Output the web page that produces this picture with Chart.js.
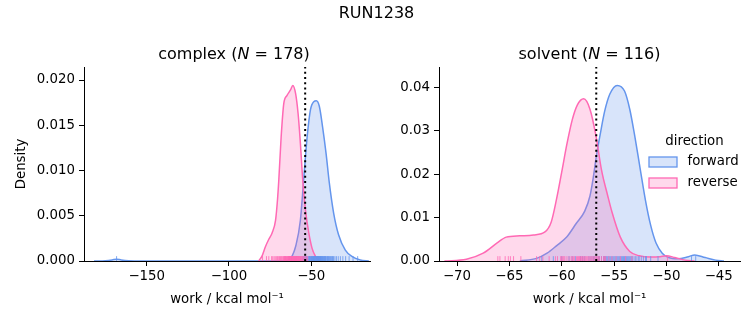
<!DOCTYPE html>
<html>
<head>
<meta charset="utf-8">
<title>RUN1238</title>
<script src="https://cdn.jsdelivr.net/npm/chart.js@4.4.0/dist/chart.umd.min.js"></script>
<style>
  html, body { margin: 0; padding: 0; background: #fff; }
  #fig { position: relative; width: 753px; height: 325px; font-family: 'DejaVu Sans', sans-serif; color: #000; overflow: hidden; }
  #fig canvas { position: absolute; top: 0; }
  .title { position: absolute; font-size: 16px; line-height: 16px; text-align: center; white-space: nowrap; }
</style>
</head>
<body>
<div id="fig">
  <canvas id="complexChart" width="376" height="325" style="left:0"></canvas>
  <canvas id="solventChart" width="377" height="325" style="left:376px"></canvas>
  <div class="title" style="left:0; width:753px; top:5px;">RUN1238</div>
  <div class="title" style="left:84px; width:300px; top:46px;">complex (<i>N</i> = 178)</div>
  <div class="title" style="left:439px; width:301px; top:46px;">solvent (<i>N</i> = 116)</div>
</div>
<script>
// work distributions, forward vs reverse, per leg
const FORWARD = '#6495ED';
const REVERSE = '#FF69B4';

// KDE curves: work (kcal/mol) and density
const complexForwardWork = [-182, -175, -171, -168.3, -165.5, -161, -154, -66, -63.6, -61.5, -59.5, -56.6, -54.6, -52.5, -50.5, -48.5, -46.9, -45.1, -43.1, -41.0, -39.0, -36.4, -33.4, -29.3, -25.3, -20.2, -15];
const complexForwardDensity = [0, 0.00004, 0.00012, 0.0002, 0.00012, 0.00004, 0, 0, 0.0001, 0.0006, 0.0016, 0.0045, 0.0090, 0.0137, 0.0167, 0.0176, 0.0177, 0.0171, 0.0148, 0.0119, 0.0086, 0.0053, 0.0029, 0.0012, 0.0005, 0.0001, 0];
const complexReverseWork = [-82.0, -79.8, -77.8, -75.8, -73.8, -71.7, -70.5, -69.7, -68.3, -66.7, -64.7, -62.6, -61.2, -59.5, -58.0, -56.6, -55.2, -53.5, -51.5, -49.5, -47.4, -45.4];
const complexReverseDensity = [0, 0.0006, 0.0016, 0.0024, 0.0031, 0.0045, 0.0068, 0.0090, 0.0137, 0.0174, 0.0183, 0.0189, 0.0194, 0.0185, 0.0163, 0.0130, 0.0090, 0.0056, 0.0031, 0.0014, 0.0005, 0];

const solventForwardWork = [-64.0, -62.4, -61.4, -60.5, -59.5, -58.6, -57.8, -57.3, -57.0, -56.7, -56.3, -55.9, -55.4, -54.7, -54.0, -53.5, -53.0, -52.5, -52.0, -51.5, -51.0, -50.4, -49.8, -48.9, -47.9, -47.3, -46.3, -45.3, -44.5];
const solventForwardDensity = [0, 0.0006, 0.0018, 0.0035, 0.0056, 0.0087, 0.0115, 0.0150, 0.0190, 0.0240, 0.0295, 0.0345, 0.0385, 0.0405, 0.0392, 0.0350, 0.0285, 0.0212, 0.0140, 0.0082, 0.0042, 0.0018, 0.0008, 0.0005, 0.0010, 0.0014, 0.0008, 0.0002, 0];
const solventReverseWork = [-71.2, -69.1, -67.5, -66.2, -65.3, -64.0, -62.7, -61.6, -61.0, -60.5, -60.0, -59.5, -59.0, -58.5, -57.9, -57.3, -56.7, -56.2, -55.6, -55.2, -54.4, -53.5, -52.6, -51.5, -50.6, -50.0, -49.2, -48.2, -47.3];
const solventReverseDensity = [0, 0.0004, 0.0018, 0.0041, 0.0055, 0.0058, 0.0060, 0.0067, 0.0090, 0.0142, 0.0205, 0.0270, 0.0325, 0.0360, 0.0374, 0.0350, 0.0285, 0.0210, 0.0150, 0.0113, 0.0055, 0.0022, 0.0012, 0.0009, 0.0010, 0.0012, 0.0008, 0.0002, 0];

// individual work values (rug)
const complexForwardRug = [
  -168.3, -62.8, -60.5, -58.9, -57.6, -56.4, -55.5, -54.7, -54.0, -53.4, -52.8,
  -52.3, -51.8, -51.4, -51.0, -50.6, -50.2, -49.9, -49.6, -49.3, -49.0,
  -48.7, -48.4, -48.1, -47.8, -47.5, -47.2, -46.9, -46.6, -46.3, -46.0,
  -45.7, -45.4, -45.1, -44.8, -44.5, -44.2, -43.9, -43.6, -43.3, -43.0,
  -42.6, -42.2, -41.8, -41.4, -41.0, -40.5, -40.0, -39.5, -39.0, -38.4,
  -37.8, -37.1, -36.4, -35.6, -34.7, -33.6, -32.3, -30.8, -29.1, -27.0,
  -24.6, -21.8, -53.0, -50.8, -50.0, -49.1, -48.6, -48.2, -47.6, -47.0,
  -46.5, -46.1, -45.5, -45.0, -44.4, -44.0, -43.4, -42.8, -42.0, -41.2,
  -40.2, -39.2, -38.0, -36.8, -55.0, -51.2, -47.9, -45.9
];
const complexReverseRug = [
  -79.6, -77.2, -75.8, -74.1, -73.4, -72.6, -71.9, -71.2, -70.5, -69.8,
  -69.3, -68.7, -68.2, -67.8, -67.3, -66.9, -66.5, -66.1, -65.8, -65.4,
  -65.1, -64.8, -64.5, -64.2, -63.9, -63.7, -63.4, -63.2, -62.9, -62.7,
  -62.5, -62.3, -62.1, -61.9, -61.7, -61.5, -61.3, -61.1, -60.9, -60.7,
  -60.5, -60.3, -60.1, -59.9, -59.7, -59.5, -59.3, -59.1, -58.9, -58.7,
  -58.5, -58.3, -58.1, -57.9, -57.7, -57.5, -57.3, -57.0, -56.8, -56.5,
  -56.2, -55.9, -55.6, -55.2, -54.8, -54.3, -53.7, -53.0, -52.2, -64.0,
  -63.0, -62.4, -62.0, -61.6, -61.2, -60.8, -60.4, -60.0, -59.6, -59.2,
  -58.8, -58.4, -61.4, -62.6, -63.5, -65.6, -66.3, -58.0, -57.2
];
const solventForwardRug = [
  -61.9, -60.8, -60.0, -59.3, -58.7, -58.2, -57.8, -57.4, -57.0, -56.7,
  -56.4, -56.2, -55.9, -55.7, -55.5, -55.3, -55.1, -54.9, -54.7, -54.5,
  -54.3, -54.1, -53.9, -53.7, -53.5, -53.3, -53.0, -52.7, -52.4, -52.0,
  -51.5, -50.8, -47.6, -47.2, -56.9, -56.0, -55.6, -55.2, -54.8, -54.4,
  -54.0, -53.6, -53.2, -52.9, -52.6, -52.2, -55.8, -55.4, -55.0, -54.6,
  -54.2, -53.8, -56.5, -57.2, -58.0, -59.0, -51.9, -53.4
];
const solventReverseRug = [
  -66.1, -65.9, -65.4, -65.1, -64.9, -64.6, -63.9, -62.4, -62.1, -61.8,
  -61.2, -60.6, -60.1, -59.9, -59.7, -59.5, -59.3, -59.1, -58.9, -58.8,
  -58.6, -58.5, -58.3, -58.2, -58.0, -57.9, -57.8, -57.6, -57.5, -57.4,
  -57.2, -57.1, -57.0, -56.8, -56.7, -56.5, -56.4, -56.2, -56.0, -55.8,
  -55.5, -55.2, -54.8, -54.4, -53.9, -53.3, -58.4, -57.7, -59.8, -60.4,
  -56.9, -58.1, -57.3, -59.0, -55.9, -49.9, -60.0, -56.6
];

// dotted reference lines
const complexMarkerWork = -53.7;
const solventMarkerWork = -56.7;

// axes
const complexXTicks = [-150, -100, -50];
const complexYTicks = [0, 0.005, 0.010, 0.015, 0.020];
const solventXTicks = [-70, -65, -60, -55, -50, -45];
const solventYTicks = [0, 0.01, 0.02, 0.03, 0.04];

const directionLabels = ['forward', 'reverse'];

Chart.defaults.font.family = "'DejaVu Sans', sans-serif";
Chart.defaults.font.size = 13.33;
Chart.defaults.color = '#000';

function withAlpha(hex, a) {
  const n = parseInt(hex.slice(1), 16);
  return `rgba(${(n >> 16) & 255}, ${(n >> 8) & 255}, ${n & 255}, ${a})`;
}

function minusLabel(v) {
  return v < 0 ? '\u2212' + Math.abs(v) : String(v);
}

// short ticks along the x axis, one per sample
const rugPlugin = {
  id: 'rug',
  afterDatasetDraw(chart, args) {
    if (args.index !== 1) return;
    const { ctx, chartArea, scales } = chart;
    const h = (chartArea.bottom - chartArea.top) * 0.025;
    ctx.save();
    ctx.beginPath();
    ctx.rect(chartArea.left, chartArea.top, chartArea.width, chartArea.height);
    ctx.clip();
    ctx.lineWidth = 1;
    ctx.globalAlpha = 0.8;
    [2, 1].forEach(i => {
      const ds = chart.data.datasets[i];
      ctx.strokeStyle = ds.borderColor;
      ctx.beginPath();
      ds.rug.forEach(v => {
        const px = scales.x.getPixelForValue(v);
        ctx.moveTo(px, chartArea.bottom);
        ctx.lineTo(px, chartArea.bottom - h);
      });
      ctx.stroke();
    });
    ctx.restore();
  }
};

// hue legend sitting inside the right-hand axes
const directionLegend = {
  id: 'directionLegend',
  afterDraw(chart) {
    const { ctx, chartArea } = chart;
    const left = chartArea.right - 91;
    const cx = chartArea.right - 45.5;
    ctx.save();
    ctx.font = "13.33px 'DejaVu Sans', sans-serif";
    ctx.fillStyle = '#000';
    ctx.textBaseline = 'middle';
    ctx.textAlign = 'center';
    ctx.fillText('direction', cx, chartArea.top + 75);
    ctx.textAlign = 'left';
    [FORWARD, REVERSE].forEach((color, i) => {
      const y = chartArea.top + 95 + i * 21;
      ctx.fillStyle = withAlpha(color, 0.25);
      ctx.fillRect(left, y - 5, 28, 10);
      ctx.strokeStyle = color;
      ctx.lineWidth = 1.3;
      ctx.strokeRect(left, y - 5, 28, 10);
      ctx.fillStyle = '#000';
      ctx.fillText(directionLabels[i], left + 38.5, y);
    });
    ctx.restore();
  }
};

function kdeDataset(label, color, xs, ys, rug) {
  return {
    label,
    data: xs.map((x, i) => ({ x, y: ys[i] })),
    rug,
    borderColor: color,
    backgroundColor: withAlpha(color, 0.25),
    borderWidth: 1.5,
    fill: 'origin',
    pointRadius: 0,
    cubicInterpolationMode: 'monotone'
  };
}

function makePanel(canvasId, cfg) {
  const axisGrid = { drawOnChartArea: false, drawTicks: true, tickLength: 5, tickColor: '#000', tickWidth: 1 };
  const axisBorder = { display: true, color: '#000', width: 1 };
  return new Chart(document.getElementById(canvasId), {
    type: 'line',
    data: {
      datasets: [
        {
          label: 'marker',
          data: [{ x: cfg.marker, y: 0 }, { x: cfg.marker, y: cfg.yMax }],
          borderColor: '#000',
          borderWidth: 2,
          borderDash: [2, 3.2],
          fill: false,
          pointRadius: 0
        },
        kdeDataset('reverse', REVERSE, cfg.revX, cfg.revY, cfg.revRug),
        kdeDataset('forward', FORWARD, cfg.fwdX, cfg.fwdY, cfg.fwdRug)
      ]
    },
    options: {
      responsive: false,
      animation: false,
      devicePixelRatio: 1,
      layout: { padding: { top: 67, right: cfg.padRight, bottom: 0, left: 0 } },
      plugins: { legend: { display: false }, tooltip: { enabled: false }, title: { display: false } },
      scales: {
        x: {
          type: 'linear',
          min: cfg.xMin,
          max: cfg.xMax,
          afterBuildTicks: s => { s.ticks = cfg.xTicks.map(v => ({ value: v })); },
          afterFit: s => { s.height = 64; },
          ticks: { callback: v => minusLabel(v), padding: 3, maxRotation: 0, autoSkip: false },
          grid: axisGrid,
          border: axisBorder,
          title: { display: true, text: 'work / kcal mol\u207B\u00B9', padding: { top: 0, bottom: 17 } }
        },
        y: {
          type: 'linear',
          min: 0,
          max: cfg.yMax,
          afterBuildTicks: s => { s.ticks = cfg.yTicks.map(v => ({ value: v })); },
          afterFit: s => { s.width = cfg.yWidth; },
          ticks: { callback: v => v.toFixed(cfg.yDigits), padding: 4, autoSkip: false },
          grid: axisGrid,
          border: axisBorder,
          title: { display: !!cfg.yLabel, text: cfg.yLabel || '', padding: { top: 14, bottom: 0 } }
        }
      }
    },
    plugins: cfg.legend ? [rugPlugin, directionLegend] : [rugPlugin]
  });
}

makePanel('complexChart', {
  fwdX: complexForwardWork, fwdY: complexForwardDensity, fwdRug: complexForwardRug,
  revX: complexReverseWork, revY: complexReverseDensity, revRug: complexReverseRug,
  marker: complexMarkerWork,
  xMin: -188.1, xMax: -14.3, xTicks: complexXTicks,
  yMax: 0.02144, yTicks: complexYTicks, yDigits: 3,
  yWidth: 84, padRight: 6, yLabel: 'Density', legend: false
});

makePanel('solventChart', {
  fwdX: solventForwardWork, fwdY: solventForwardDensity, fwdRug: solventForwardRug,
  revX: solventReverseWork, revY: solventReverseDensity, revRug: solventReverseRug,
  marker: solventMarkerWork,
  xMin: -71.72, xMax: -42.97, xTicks: solventXTicks,
  yMax: 0.04474, yTicks: solventYTicks, yDigits: 2,
  yWidth: 63, padRight: 13, yLabel: null, legend: true
});
</script>
</body>
</html>
